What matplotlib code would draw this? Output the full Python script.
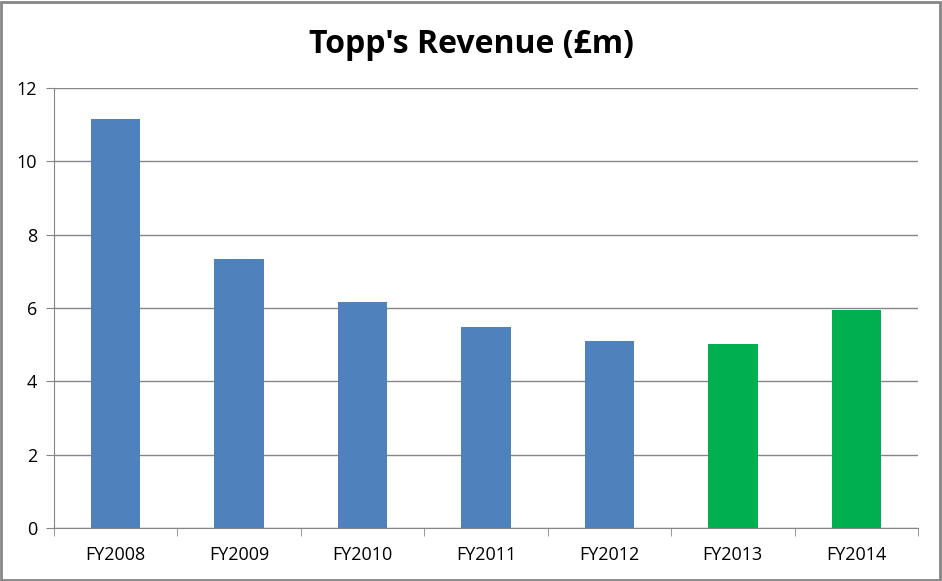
import numpy as np
import matplotlib.pyplot as plt
from matplotlib.patches import Rectangle

years = ['FY2008', 'FY2009', 'FY2010', 'FY2011', 'FY2012', 'FY2013', 'FY2014']
revenue = [11.15, 7.34, 6.16, 5.48, 5.10, 5.02, 5.95]  # £m
bar_colors = ['#4F81BD'] * 5 + ['#00B050'] * 2

plt.rcParams['font.family'] = ['Open Sans', 'DejaVu Sans']

fig = plt.figure(figsize=(9.42, 5.81), dpi=100)
ax = fig.add_axes([0.0573, 0.0912, 0.9172, 0.7573])

x = np.arange(len(years))
ax.bar(x, revenue, width=0.4, color=bar_colors, zorder=3)

ax.set_xlim(-0.5, len(years) - 0.5)
ax.set_ylim(0, 12)
ax.set_yticks(np.arange(0, 13, 2))
ax.yaxis.grid(True, color='#868686', linewidth=1, zorder=0)

ax.set_xticks(x)
ax.set_xticklabels(years, fontsize=13)
ax.set_xticks(np.arange(-0.5, len(years)), minor=True)
ax.tick_params(axis='x', which='major', length=0, pad=13)
ax.tick_params(axis='x', which='minor', length=6, color='#868686', direction='out')
ax.tick_params(axis='y', length=6, color='#868686', labelsize=13, pad=6)

for side in ['top', 'right']:
    ax.spines[side].set_visible(False)
for side in ['left', 'bottom']:
    ax.spines[side].set_color('#868686')

fig.text(0.5, 0.923, "Topp's Revenue (£m)", ha='center', va='center',
         fontsize=23, fontweight='bold')

fig.patches.append(Rectangle((0.001, 0.002), 0.997, 0.995, transform=fig.transFigure,
                             fill=False, edgecolor='#868686', linewidth=2))

fig.savefig('out.png', dpi=100)
